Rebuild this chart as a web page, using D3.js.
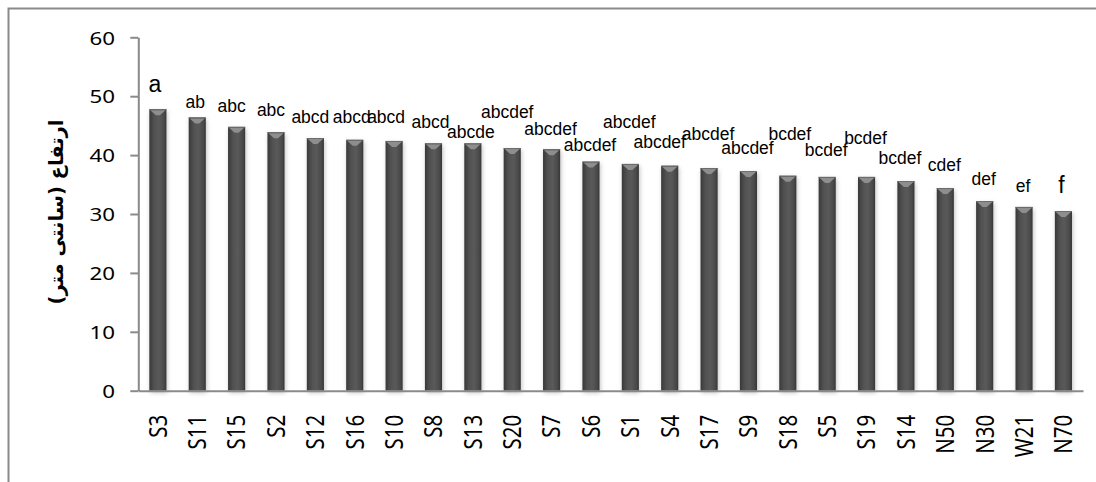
<!DOCTYPE html>
<html>
<head>
<meta charset="utf-8">
<script src="https://cdn.jsdelivr.net/npm/d3@7/dist/d3.min.js"></script>
<style>
  html, body { margin: 0; padding: 0; background: #fff; }
  svg { display: block; }
</style>
</head>
<body>
<script>
// Plant height per accession, sorted descending, with mean-separation letters
const categories = ["S3","S11","S15","S2","S12","S16","S10","S8","S13","S20","S7","S6",
                    "S1","S4","S17","S9","S18","S5","S19","S14","N50","N30","W21","N70"];
const heights = [47.8,46.4,44.8,43.9,42.9,42.6,42.4,42.0,42.0,41.2,41.0,38.9,
                 38.5,38.2,37.8,37.3,36.5,36.3,36.3,35.6,34.4,32.2,31.2,30.5];
const letters = ["a","ab","abc","abc","abcd","abcd","abcd","abcd","abcde","abcdef","abcdef","abcdef",
                 "abcdef","abcdef","abcdef","abcdef","bcdef","bcdef","bcdef","bcdef","cdef","def","ef","f"];
const yTicks = [0,10,20,30,40,50,60];
const yTitle = "ارتفاع (سانتی متر)";

// Manual nudges [dx, dy] so overlapping letter labels stay readable
const labelNudge = [[-3,-17],[-2,-9],[-5,-15],[-5,-16],[-5,-15],[-3,-17],[-8,-18],[-3,-15],
                    [-2,-5],[-5,-30],[-1,-14],[-1,-11],[-1,-36],[-10,-18],[-1,-28],[-1,-17],
                    [2,-36],[-1,-21],[-1,-33],[-6,-17],[-1,-17],[-1,-16],[-1,-15],[-2,-18]];

const W = 1096, H = 482;
const svg = d3.select("body").append("svg").attr("width", W).attr("height", H);

const defs = svg.append("defs");
const grad = defs.append("linearGradient").attr("id", "barGrad")
  .attr("x1", "0%").attr("x2", "100%").attr("y1", "0%").attr("y2", "0%");
[["0%","#383838"],["25%","#4f4f4f"],["55%","#5a5a5a"],["85%","#4a4a4a"],["100%","#363636"]]
  .forEach(([o,c]) => grad.append("stop").attr("offset", o).attr("stop-color", c));
const shadow = defs.append("filter").attr("id", "barShadow")
  .attr("x", "-50%").attr("y", "-10%").attr("width", "200%").attr("height", "120%");
shadow.append("feDropShadow").attr("dx", 1).attr("dy", 2).attr("stdDeviation", 2)
  .attr("flood-color", "#777").attr("flood-opacity", 0.45);

// Chart frame
svg.append("rect").attr("x", 8.5).attr("y", 8.5).attr("width", 1200).attr("height", 600)
  .attr("fill", "none").attr("stroke", "#8a8a8a").attr("stroke-width", 2);

const plotLeft = 138.3, plotRight = 1083, plotTop = 37.3, plotBottom = 390.7;
const x = d3.scaleBand().domain(categories).range([plotLeft, plotRight]).paddingInner(0.565).paddingOuter(0.28);
const y = d3.scaleLinear().domain([0, 60]).range([plotBottom, plotTop]);

// Bars
const bars = svg.append("g");
const g = bars.selectAll("g.bar").data(categories).join("g").attr("class", "bar");
g.append("rect")
  .attr("x", d => x(d))
  .attr("y", (d, i) => y(heights[i]))
  .attr("width", x.bandwidth())
  .attr("height", (d, i) => y(0) - y(heights[i]))
  .attr("fill", "url(#barGrad)")
  .attr("filter", "url(#barShadow)");
// Bevelled top
g.append("polygon")
  .attr("points", (d, i) => {
    const x0 = x(d), x1 = x(d) + x.bandwidth(), t = y(heights[i]), cx = (x0 + x1) / 2;
    return [[x0 + 1, t + 1], [x1 - 1, t + 1], [cx + 2, t + 6], [cx - 2, t + 6]].map(p => p.join(",")).join(" ");
  })
  .attr("fill", "#8e8e8e");
g.append("line")
  .attr("x1", d => x(d)).attr("x2", d => x(d) + x.bandwidth())
  .attr("y1", (d, i) => y(heights[i]) + 0.5).attr("y2", (d, i) => y(heights[i]) + 0.5)
  .attr("stroke", "#6e6e6e").attr("stroke-width", 1);

// Letter labels
svg.append("g").selectAll("text").data(categories).join("text")
  .attr("x", (d, i) => x(d) + x.bandwidth() / 2 + labelNudge[i][0])
  .attr("y", (d, i) => y(heights[i]) + labelNudge[i][1])
  .attr("text-anchor", "middle")
  .attr("font-family", "'Liberation Sans', Arial, sans-serif")
  .attr("font-size", (d, i) => letters[i].length === 1 ? 23 : 17.5)
  .attr("fill", "#000")
  .text((d, i) => letters[i]);

// Y axis
const yAxis = svg.append("g").attr("transform", `translate(${plotLeft},0)`)
  .call(d3.axisLeft(y).tickValues(yTicks).tickSize(8).tickSizeOuter(0));
yAxis.select(".domain").attr("stroke", "#8a8a8a").attr("stroke-width", 2);
yAxis.selectAll(".tick line").attr("stroke", "#8a8a8a").attr("stroke-width", 2);
yAxis.selectAll(".tick text")
  .attr("x", -19.5).attr("dy", "0.36em")
  .attr("transform", "scale(1.2,1)")
  .attr("font-family", "'Noto Sans', sans-serif").attr("font-size", 18.6).attr("fill", "#000");

// X axis
const xAxis = svg.append("g").attr("transform", `translate(0,${plotBottom})`)
  .call(d3.axisBottom(x).tickSize(0).tickSizeOuter(0));
xAxis.select(".domain").attr("stroke", "#8a8a8a").attr("stroke-width", 2);
xAxis.selectAll(".tick text")
  .attr("transform", "translate(0,24) rotate(-90) scale(1,1.2)")
  .attr("x", 0).attr("y", 0).attr("dy", "0.36em")
  .attr("text-anchor", "end")
  .attr("font-family", "'Noto Sans', sans-serif").attr("font-size", 20.5).attr("fill", "#000");

// Y axis title
svg.append("text")
  .attr("transform", "translate(56,212) rotate(-90)")
  .attr("text-anchor", "middle").attr("dy", "0.35em")
  .attr("font-family", "'DejaVu Sans', sans-serif").attr("font-weight", "bold")
  .attr("font-size", 19.5).attr("fill", "#000")
  .text(yTitle);
</script>
</body>
</html>
